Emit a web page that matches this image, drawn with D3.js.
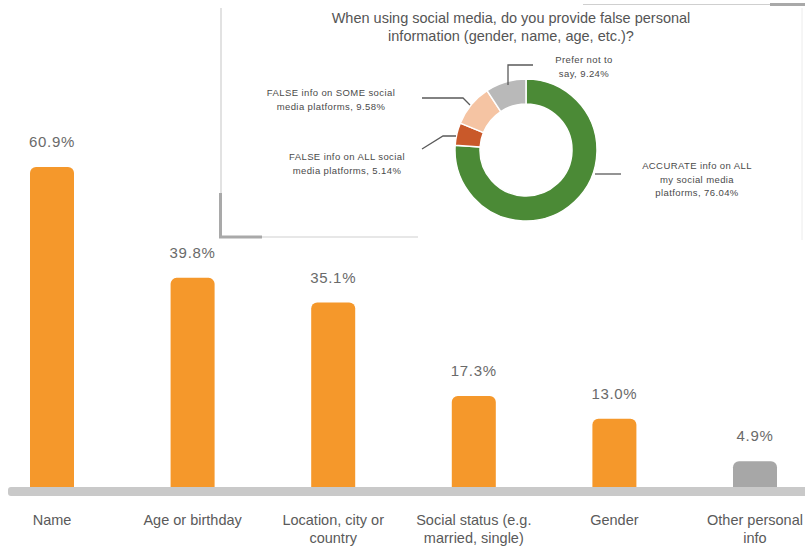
<!DOCTYPE html>
<html><head><meta charset="utf-8">
<script src="https://cdn.jsdelivr.net/npm/d3@7"></script>
<style>body{margin:0;background:#fff}svg{display:block}text{font-family:"Liberation Sans",Arial,sans-serif}</style>
</head><body><svg id="c" width="805" height="550"></svg>
<script>
// Bar chart data
const categories = ["Name","Age or birthday","Location, city or country","Social status (e.g. married, single)","Gender","Other personal info"];
const categoryLines = [["Name"],["Age or birthday"],["Location, city or","country"],["Social status (e.g.","married, single)"],["Gender"],["Other personal","info"]];
const values = [60.9, 39.8, 35.1, 17.3, 13.0, 4.9];
const valueLabels = ["60.9%","39.8%","35.1%","17.3%","13.0%","4.9%"];

// Donut data
const pieTitle = ["When using social media, do you provide false personal","information (gender, name, age, etc.)?"];
const pieCats = ["ACCURATE info on ALL my social media platforms","FALSE info on ALL social media platforms","FALSE info on SOME social media platforms","Prefer not to say"];
const pieValues = [76.04, 5.14, 9.58, 9.24];
const pieLabelLines = [["ACCURATE info on ALL","my social media","platforms, 76.04%"],["FALSE info on ALL social","media platforms, 5.14%"],["FALSE info on SOME social","media platforms, 9.58%"],["Prefer not to","say, 9.24%"]];
const pieColors = ["#4b8a36","#c9592a","#f5c4a3","#b9b9b9"];

const svg = d3.select("#c");

// ----- Bars -----
const baseY = 487;
const x = d3.scaleBand().domain(categories).range([-18.3, 825.3]).paddingInner(0.687).paddingOuter(0.3435);
const y = d3.scaleLinear().domain([0, 60.9]).range([baseY, 167]);
const r = 6;
categories.forEach((c, i) => {
  const x0 = x(c), w = x.bandwidth(), yt = y(values[i]);
  const p = d3.path();
  p.moveTo(x0, baseY);
  p.lineTo(x0, yt + r);
  p.arcTo(x0, yt, x0 + r, yt, r);
  p.lineTo(x0 + w - r, yt);
  p.arcTo(x0 + w, yt, x0 + w, yt + r, r);
  p.lineTo(x0 + w, baseY);
  p.closePath();
  svg.append("path").attr("d", p.toString()).attr("fill", i === 5 ? "#a7a7a7" : "#f5982b");
  svg.append("text").attr("x", x0 + w / 2).attr("y", yt - 20).attr("text-anchor", "middle")
    .attr("font-size", 15).attr("fill", "#6a6a6a").attr("letter-spacing", 0.7).text(valueLabels[i]);
  const t = svg.append("text").attr("text-anchor", "middle").attr("font-size", 14.5).attr("fill", "#5a5a5a");
  categoryLines[i].forEach((ln, j) => t.append("tspan").attr("x", x0 + w / 2).attr("y", 525 + j * 18).text(ln));
});
// baseline band
svg.append("rect").attr("x", 8).attr("y", baseY).attr("width", 805).attr("height", 9).attr("rx", 3).attr("fill", "#c9c9c9");

// ----- Inset frame -----
const g = svg.append("g");
g.append("line").attr("x1", 221).attr("y1", 8).attr("x2", 221).attr("y2", 194).attr("stroke", "#cfcfcf").attr("stroke-width", 1.2);
g.append("path").attr("d", "M220.5,193 L220.5,237 L262,237").attr("fill", "none").attr("stroke", "#a9a9a9").attr("stroke-width", 3);
g.append("line").attr("x1", 262).attr("y1", 237).attr("x2", 418).attr("y2", 237).attr("stroke", "#cfcfcf").attr("stroke-width", 1.2);
g.append("line").attr("x1", 583).attr("y1", 4.5).attr("x2", 770).attr("y2", 4.5).attr("stroke", "#cfcfcf").attr("stroke-width", 1.2);
g.append("line").attr("x1", 770).attr("y1", 4.5).attr("x2", 805).attr("y2", 4.5).attr("stroke", "#a9a9a9").attr("stroke-width", 3);
g.append("line").attr("x1", 802).attr("y1", 8).attr("x2", 802).attr("y2", 240).attr("stroke", "#ececec").attr("stroke-width", 1);

// title
const tt = svg.append("text").attr("text-anchor", "middle").attr("font-size", 14.5).attr("fill", "#555");
pieTitle.forEach((ln, j) => tt.append("tspan").attr("x", 511).attr("y", 23 + j * 18).text(ln));

// ----- Donut -----
const cx = 526, cy = 150, R = 71, RI = 46;
const pie = d3.pie().sort(null).value(d => d)(pieValues);
const arc = d3.arc().innerRadius(RI).outerRadius(R);
const dg = svg.append("g").attr("transform", `translate(${cx},${cy})`);
dg.selectAll("path").data(pie).join("path").attr("d", arc)
  .attr("fill", (d, i) => pieColors[i]).attr("stroke", "#fff").attr("stroke-width", 1.5);

// leader lines (relative to donut geometry)
const leaders = [
  [[R - 2, 24], [R + 24, 24]],
  [[-R + 1, -14], [-R - 12, -14], [-R - 33, -1]],
  [[-R + 15, -45], [-R + 8, -52], [-R - 33, -52]],
  [[-18, -R + 6], [-18, -R - 14], [7, -R - 14]]
];
leaders.forEach(pts => {
  svg.append("path").attr("d", d3.line()(pts.map(p => [cx + p[0], cy + p[1]])))
    .attr("fill", "none").attr("stroke", "#5a5a5a").attr("stroke-width", 1.3);
});
const labelPos = [[697, 169], [347, 160], [331, 96], [584, 63]];
pieLabelLines.forEach((lines, i) => {
  const t = svg.append("text").attr("text-anchor", "middle").attr("font-size", 9.5).attr("fill", "#4a4a4a").attr("letter-spacing", 0.4);
  lines.forEach((ln, j) => t.append("tspan").attr("x", labelPos[i][0]).attr("y", labelPos[i][1] + j * 13.5).text(ln));
});
</script></body></html>
